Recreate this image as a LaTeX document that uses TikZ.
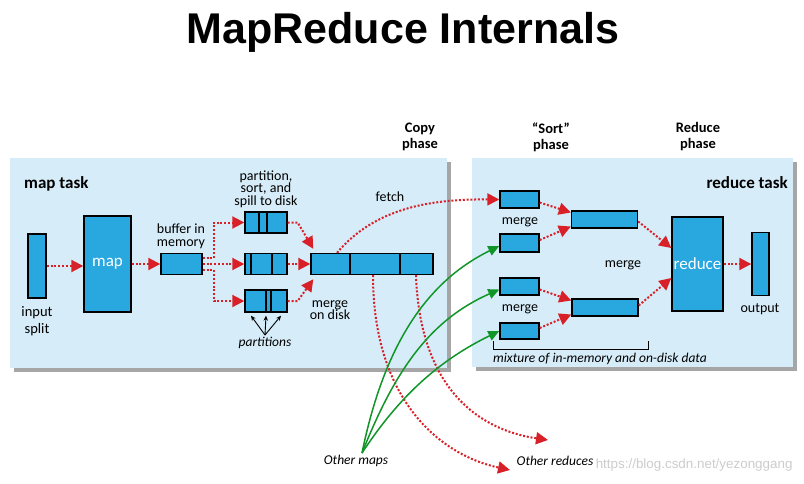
\documentclass[tikz,border=0pt]{standalone}
\usepackage{fontspec}
\setmainfont{Carlito}
\newfontfamily\titlefont{Liberation Sans}
\newfontfamily\markfont{Liberation Sans}
\usetikzlibrary{arrows.meta,shadows}

\definecolor{panelblue}{RGB}{214,236,248}
\definecolor{boxblue}{RGB}{41,168,224}
\definecolor{arrred}{RGB}{216,32,40}
\definecolor{mapgreen}{RGB}{16,150,40}

\tikzset{
  blk/.style={draw=black, line width=1.4pt, fill=boxblue, inner sep=0pt},
  panel/.style={fill=panelblue, drop shadow={shadow xshift=4pt, shadow yshift=-4pt, fill=black, opacity=.35}},
  flow/.style={draw=arrred, line width=2pt, dash pattern=on 2pt off 1.8pt, -{Triangle[length=12pt,width=12pt]}},
  feed/.style={draw=mapgreen, line width=1.5pt, -{Triangle[length=11pt,width=10pt]}},
  lbl/.style={font=\fontsize{14}{12.5}\selectfont, align=center, inner sep=0pt},
  hdr/.style={font=\bfseries\fontsize{14.5}{16}\selectfont, align=center, inner sep=0pt},
  tsk/.style={font=\bfseries\fontsize{17}{17}\selectfont, inner sep=0pt},
  note/.style={font=\itshape\fontsize{13.5}{13.5}\selectfont, inner sep=0pt},
}

\begin{document}
\begin{tikzpicture}[x=1pt,y=-1pt]
  \useasboundingbox (0,0) rectangle (804,483);
  % Title
  \node[anchor=base] (title) at (403,43)
    {\titlefont\bfseries\fontsize{43}{43}\selectfont MapReduce Internals};
  % Panels
  \fill[panel] (10,158) rectangle (447,368); % map side
  \fill[panel] (472,158) rectangle (793,367); % reduce side
  \node[tsk, anchor=base west] (maptask) at (24,188) {map task};
  \node[tsk, anchor=base east] (redtask) at (788,188) {reduce task};
  % Phases
  \node[hdr] (copyph) at (420,137) {Copy\\phase};
  \node[hdr] (sortph) at (551,137) {``Sort''\\phase};
  \node[hdr] (redph) at (698,137) {Reduce\\phase};

  % Map side blocks
  \node[blk, minimum width=18pt, minimum height=64pt] (split) at (37,266) {};
  \node[blk, minimum width=47pt, minimum height=96pt, text=white,
        font=\fontsize{17}{17}\selectfont] (map) at (107.5,264) {map};
  \node[blk, minimum width=41pt, minimum height=21pt] (buf) at (181.5,264) {};
  \node[blk, minimum width=42pt, minimum height=21pt] (sp1) at (266,222.5) {};
  \node[blk, minimum width=42pt, minimum height=21pt] (sp2) at (266,264) {};
  \node[blk, minimum width=42pt, minimum height=22pt] (sp3) at (266,301) {};
  \node[blk, minimum width=122pt, minimum height=21pt] (mrg) at (372,264) {};
  % dividers
  \foreach \x in {259,267} \draw[line width=1.4pt] (\x,212) -- (\x,233);
  \foreach \x in {251,272} \draw[line width=1.4pt] (\x,253.5) -- (\x,274.5);
  \foreach \x in {266,271} \draw[line width=1.4pt] (\x,290) -- (\x,312);
  \foreach \x in {350,400} \draw[line width=1.4pt] (\x,253.5) -- (\x,274.5);

  % Map side labels
  \node[lbl, font=\fontsize{14.5}{17}\selectfont] (splitlbl) at (37,321) {input\\split};
  \node[lbl, font=\fontsize{14}{13}\selectfont] (buflbl) at (181,236) {buffer in\\memory};
  \node[lbl] (spilllbl) at (266,189) {partition,\\sort, and\\spill to disk};
  \node[lbl] (mrglbl) at (330,310) {merge\\on disk};
  \node[lbl] (fetch) at (390,197) {fetch};
  \node[note] (parts) at (265,343) {partitions};
  \coordinate (papex) at (265,335);
  \foreach \dx in {-15,0,15}
    \draw[line width=0.9pt, -{Stealth[length=5pt,width=4.5pt]}]
      (papex) -- ([xshift=\dx pt,yshift=-3pt]sp3.south);

  % Map side flow
  \draw[flow] (split) -- (split -| map.west);
  \draw[flow] (map) -- (buf);
  \draw[flow] ([yshift=6pt]buf.east) -- ++(11,0) |- (sp1.west);
  \draw[flow] (buf) -- (sp2);
  \draw[flow] ([yshift=-6pt]buf.east) -- ++(11,0) |- (sp3.west);
  \draw[flow] (sp1.east) -- ++(10,0) -- ([xshift=3pt,yshift=4pt]mrg.north west);
  \draw[flow] (sp2) -- (mrg);
  \draw[flow] (sp3.east) -- ++(10,0) -- ([xshift=3pt,yshift=-4pt]mrg.south west);

  % Reduce side blocks
  \node[blk, minimum width=39pt, minimum height=17pt] (rm1) at (519.5,199.5) {};
  \node[blk, minimum width=39pt, minimum height=18pt] (rm2) at (519.5,243) {};
  \node[blk, minimum width=39pt, minimum height=17pt] (rm3) at (519.5,286.5) {};
  \node[blk, minimum width=39pt, minimum height=16pt] (rm4) at (519.5,331) {};
  \node[blk, minimum width=66pt, minimum height=17pt] (mg1) at (604.5,219.5) {};
  \node[blk, minimum width=66pt, minimum height=17pt] (mg2) at (605,307.5) {};
  \node[blk, minimum width=51pt, minimum height=94pt, text=white,
        font=\fontsize{17}{17}\selectfont] (reduce) at (697.5,264) {reduce};
  \node[blk, minimum width=17pt, minimum height=63pt] (output) at (760.5,264) {};

  % Reduce side labels
  \node[lbl] (mlbl1) at (520,222) {merge};
  \node[lbl] (mlbl2) at (520,309) {merge};
  \node[lbl] (mlbl3) at (623,265) {merge};
  \node[lbl] (outlbl) at (760,309) {output};
  \draw[line width=0.8pt] (493,341) -- (493,349) -- (648,349) -- (648,341);
  \node[note] (mix) at (600,359) {mixture of in-memory and on-disk data};

  % Reduce side flow
  \draw[flow] ([yshift=-3pt]rm1.east) -- ([yshift=7pt]mg1.west);
  \draw[flow] ([yshift=3pt]rm2.east) -- ([yshift=-7pt]mg1.west);
  \draw[flow] ([yshift=-3pt]rm3.east) -- ([yshift=7pt]mg2.west);
  \draw[flow] ([yshift=3pt]rm4.east) -- ([yshift=-7pt]mg2.west);
  \draw[flow] ([yshift=-2pt]mg1.east) -- ([yshift=16pt]reduce.west);
  \draw[flow] ([yshift=2pt]mg2.east) -- ([yshift=-14pt]reduce.west);
  \draw[flow] (reduce) -- (output);

  % Copy phase
  \draw[flow] ([xshift=-35pt]mrg.north) .. controls (375,208) and (430,199) .. (rm1.west);
  \node[note] (othermaps) at (356,461) {Other maps};
  \node[note] (otherred) at (555,461) {Other reduces};
  \coordinate (omapex) at ([xshift=6pt,yshift=2pt]othermaps.north);
  \coordinate (ored1) at (510,470);
  \coordinate (ored2) at (548,440);
  \draw[flow] ([xshift=1pt]mrg.south) .. controls (373,400) and (440,455) .. (ored1);
  \draw[flow] ([xshift=44pt]mrg.south) .. controls (420,390) and (480,430) .. (ored2);
  \draw[feed] (omapex) .. controls (385,340) and (430,280) .. ([yshift=-3pt]rm2.west);
  \draw[feed] (omapex) .. controls (395,370) and (430,320) .. ([yshift=-3pt]rm3.west);
  \draw[feed] (omapex) .. controls (400,395) and (440,360) .. (rm4.west);

  % Watermark
  \node[text=black!20, anchor=east, font=\markfont\fontsize{13.4}{14}\selectfont] (mark)
    at (796,465) {https://blog.csdn.net/yezonggang};
\end{tikzpicture}
\end{document}
